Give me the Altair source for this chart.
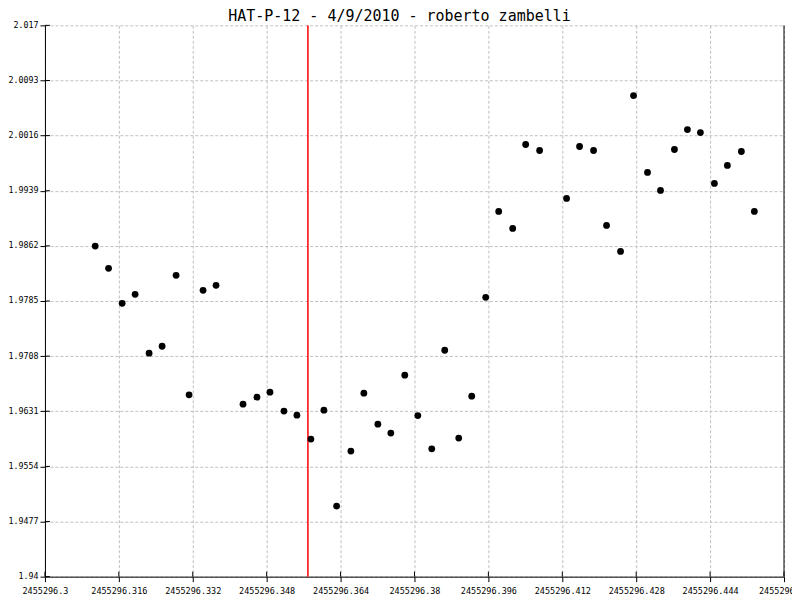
import altair as alt
import pandas as pd

title_text = "HAT-P-12 - 4/9/2010 - roberto zambelli"

jd = [2455296.31088, 2455296.31377, 2455296.31671, 2455296.31952, 2455296.32255,
      2455296.32536, 2455296.32839, 2455296.33120, 2455296.33423, 2455296.33704,
      2455296.34288, 2455296.34590, 2455296.34871, 2455296.35174, 2455296.35455,
      2455296.35758, 2455296.36039, 2455296.36314, 2455296.36623, 2455296.36904,
      2455296.37207, 2455296.37488, 2455296.37790, 2455296.38072, 2455296.38374,
      2455296.38655, 2455296.38958, 2455296.39239, 2455296.39542, 2455296.39823,
      2455296.40126, 2455296.40407, 2455296.40709, 2455296.41293, 2455296.41574,
      2455296.41877, 2455296.42158, 2455296.42461, 2455296.42742, 2455296.43045,
      2455296.43326, 2455296.43628, 2455296.43909, 2455296.44190, 2455296.44493,
      2455296.44774, 2455296.45077, 2455296.45358]
flux = [1.98617, 1.98306, 1.97818, 1.97944, 1.97121, 1.97218, 1.98209, 1.96539,
        1.97999, 1.98069, 1.96409, 1.96507, 1.96577, 1.96312, 1.96256, 1.95921,
        1.96325, 1.94986, 1.95754, 1.96563, 1.96130, 1.96005, 1.96814, 1.96250,
        1.95786, 1.97162, 1.95935, 1.96521, 1.97902, 1.99101, 1.98864, 2.00036,
        1.99952, 1.99283, 2.00008, 1.99952, 1.98906, 1.98543, 2.00719, 1.99645,
        1.99394, 1.99966, 2.00245, 2.00203, 1.99492, 1.99743, 1.99938, 1.99101]

x_ticks = [2455296.300, 2455296.316, 2455296.332, 2455296.348, 2455296.364,
           2455296.380, 2455296.396, 2455296.412, 2455296.428, 2455296.444,
           2455296.460]
y_ticks = [1.94, 1.9477, 1.9554, 1.9631, 1.9708, 1.9785, 1.9862, 1.9939,
           2.0016, 2.0093, 2.017]
marker_jd = [2455296.35693]

W, H = 740, 552
FONT = "DejaVu Sans Mono"

df = pd.DataFrame({"jd": jd, "flux": flux})
xs = alt.Scale(domain=[x_ticks[0], x_ticks[-1]], nice=False, zero=False)
ys = alt.Scale(domain=[y_ticks[0], y_ticks[-1]], nice=False, zero=False)

points = alt.Chart(df).mark_circle(size=46, color="black", opacity=1).encode(
    x=alt.X("jd:Q", scale=xs, title=None,
            axis=alt.Axis(values=x_ticks, labelExpr="format(datum.value, '.3~f')",
                          grid=True, labelFlush=False, labelOverlap=False,
                          labelPadding=5, labelFontSize=8.5)),
    y=alt.Y("flux:Q", scale=ys, title=None,
            axis=alt.Axis(values=y_ticks, labelExpr="format(datum.value, '.4~f')",
                          grid=True, labelOverlap=False, labelPadding=2,
                          labelFontSize=8.3)),
)

marker = alt.Chart(pd.DataFrame({"jd": marker_jd})).mark_rule(
    color="#ff0000", strokeWidth=1.5).encode(x=alt.X("jd:Q", scale=xs, title=None))

right_edge = alt.Chart(pd.DataFrame({"jd": [x_ticks[-1]]})).mark_rule(
    color="black", strokeWidth=1).encode(x=alt.X("jd:Q", scale=xs, title=None))

xin = alt.Chart(pd.DataFrame({"jd": x_ticks})).mark_rule(color="black").encode(
    x=alt.X("jd:Q", scale=xs, title=None), y=alt.value(H - 5), y2=alt.value(H))
yin = alt.Chart(pd.DataFrame({"flux": y_ticks})).mark_rule(color="black").encode(
    y=alt.Y("flux:Q", scale=ys, title=None), x=alt.value(0), x2=alt.value(5))

chart = alt.layer(marker, xin, yin, right_edge, points).properties(
    width=W, height=H,
    autosize=alt.AutoSizeParams(type="none"),
    padding={"left": 37, "top": 17, "right": 8, "bottom": 20},
    background="white",
    title=alt.TitleParams(title_text, font=FONT, fontSize=15, fontWeight="normal",
                          color="black", anchor="middle", dx=-15, offset=-4),
).configure_view(stroke=None).configure_axis(
    domainColor="black", domainWidth=1, tickColor="black", tickSize=5,
    labelFont=FONT, labelColor="black",
    gridColor="#c0c0c0", gridDash=[3, 2], gridWidth=1,
)

chart.save("out.html", embed_options={"renderer": "svg", "actions": False})
